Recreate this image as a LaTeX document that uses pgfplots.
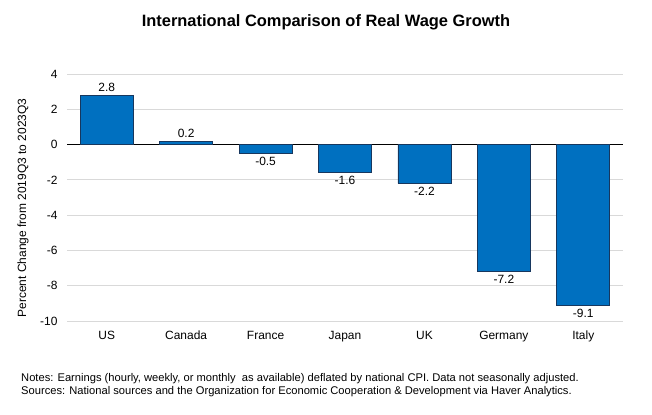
\documentclass[border=0pt]{standalone}
\usepackage{pgfplots}
\pgfplotsset{compat=1.18}
\usepackage{fontspec}
\setmainfont{Liberation Sans}
\definecolor{barblue}{HTML}{0070C0}
\definecolor{baredge}{HTML}{17375E}
\definecolor{gridgray}{HTML}{D9D9D9}
\begin{document}
\begin{tikzpicture}[x=1bp,y=1bp]
\path[use as bounding box] (0,0) rectangle (652,-414);
\fill[white] (0,0) rectangle (652,-414);
\begin{axis}[
  at={(67bp,-321bp)}, anchor=south west,
  scale only axis, width=556bp, height=247bp,
  ybar, bar width=53bp,
  xmin=-0.5, xmax=6.5, ymin=-10, ymax=4,
  ytick={-10,-8,...,4},
  xtick=data,
  xticklabels={US,Canada,France,Japan,UK,Germany,Italy},
  axis line style={draw=none},
  major tick length=0pt,
  ymajorgrids, grid style={gridgray, line width=0.8pt},
  extra y ticks={0}, extra y tick labels={},
  extra y tick style={grid style={black, line width=0.8pt}},
  tick label style={font=\fontsize{12}{14}\selectfont},
  /pgf/number format/assume math mode=true,
  yticklabel style={xshift=-6bp},
  xticklabel style={yshift=-6bp, text height=9bp, text depth=2.5bp},
  nodes near coords,
  nodes near coords style={font=\fontsize{12}{14}\selectfont,
    /pgf/number format/fixed, /pgf/number format/precision=1,
    /pgf/number format/fixed zerofill, /pgf/number format/assume math mode=true},
  clip=false,
]
\addplot[fill=barblue, draw=baredge, line width=0.7pt] coordinates {
  (0,2.8) (1,0.2) (2,-0.5) (3,-1.6) (4,-2.2) (5,-7.2) (6,-9.1)
};
\end{axis}
\node[rotate=90, font=\fontsize{12}{14}\selectfont] at (23,-208) {Percent Change from 2019Q3 to 2023Q3};
\node[font=\bfseries\fontsize{16.5}{19}\selectfont] at (326,-22) {International Comparison of Real Wage Growth};
\node[anchor=west, font=\fontsize{11.2}{13}\selectfont, inner sep=0pt] at (21,-379) {Notes: Earnings (hourly, weekly, or monthly\ \ as available) deflated by national CPI. Data not seasonally adjusted.};
\node[anchor=west, font=\fontsize{11.2}{13}\selectfont, inner sep=0pt] at (21,-392) {Sources: National sources and the Organization for Economic Cooperation \& Development via Haver Analytics.};
\end{tikzpicture}
\end{document}
